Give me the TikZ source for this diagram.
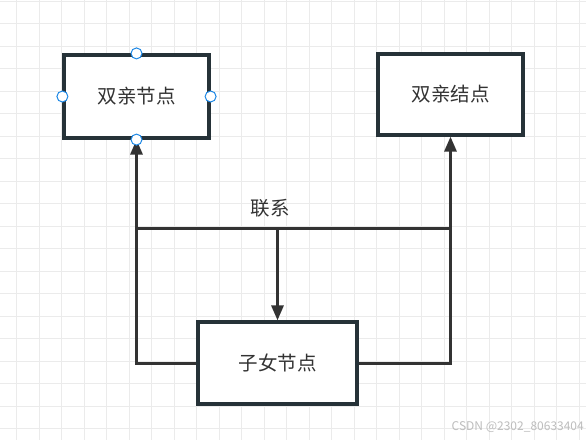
\documentclass[tikz,border=0pt]{standalone}
\usepackage{fontspec}
\setmainfont{Noto Sans CJK SC}
\usetikzlibrary{arrows.meta}
\definecolor{boxc}{HTML}{263238}
\definecolor{linec}{HTML}{333333}
\definecolor{gridc}{HTML}{EBEBEB}
\definecolor{handlec}{HTML}{1E88E5}
\definecolor{wmc}{HTML}{BDBDBD}
\begin{document}
\begin{tikzpicture}[x=1pt,y=-1pt,
  box/.style={draw=boxc, line width=3.2pt, fill=white, inner sep=0pt,
    font=\fontsize{19.5}{22}\selectfont, text=linec},
  conn/.style={draw=linec, line width=3pt, line join=miter},
  arr/.style={-{Triangle[length=15pt,width=12pt]}},
  handle/.style={circle, draw=handlec, fill=white, line width=1pt,
    minimum size=11pt, inner sep=0pt}]
\useasboundingbox (0,0) rectangle (586,440);
\fill[white] (0,0) rectangle (586,440);
\foreach \x in {16.5,39,...,586} \draw[gridc, line width=1pt] (\x,0) -- (\x,440);
\foreach \y in {1,23.5,...,440} \draw[gridc, line width=1pt] (0,\y) -- (586,\y);

\node[box, minimum width=145pt, minimum height=83pt] (p1) at (136.5,96.5) {双亲节点};
\node[box, minimum width=145pt, minimum height=81pt] (p2) at (450.5,94.5) {双亲结点};
\node[box, minimum width=159pt, minimum height=82pt] (c) at (277.5,363) {子女节点};

\coordinate (jl) at (p1.south |- 0,228);
\coordinate (jr) at (p2.south |- 0,228);
\coordinate (jm) at (c.north |- 0,228);

\draw[conn] (c.west) -| (jl) -- (jr) |- (c.east);
\draw[conn,arr] (jl) -- (p1.south);
\draw[conn,arr] (jr) -- (p2.south);
\draw[conn,arr] (jm) -- (c.north);

\node[font=\fontsize{19.5}{22}\selectfont, text=linec] (lbl) at (270,208) {联系};

\node[handle] (h1) at (p1.north) {};
\node[handle] (h2) at (p1.west) {};
\node[handle] (h3) at (p1.east) {};
\node[handle] (h4) at (p1.south) {};

\node[anchor=east, font=\fontsize{12}{14}\selectfont, text=wmc, inner sep=0pt] (wm) at (584,427) {CSDN @2302\_80633404};
\end{tikzpicture}
\end{document}
